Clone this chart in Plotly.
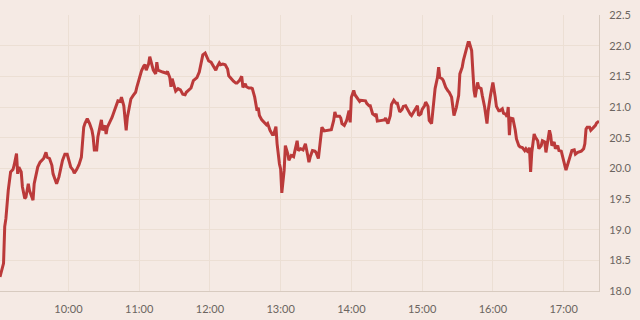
import pandas as pd
import plotly.graph_objects as go

# minutes after 09:00 and price
minutes = [2, 5, 6, 7, 9, 11, 13, 14, 16, 17, 18, 20, 21, 23, 24, 26, 27, 29, 30, 31,
           33, 34, 36, 38, 39, 41, 42, 44, 46, 47, 49, 50, 52, 53, 55, 57, 59, 60, 62, 64,
           65, 67, 68, 69, 71, 72, 73, 74, 76, 78, 80, 81, 82, 84, 85, 87, 88, 89, 91, 92,
           93, 95, 97, 99, 101, 102, 104, 105, 107, 109, 110, 112, 113, 115, 117, 118, 120, 122, 124, 125,
           126, 128, 129, 131, 132, 134, 135, 136, 138, 140, 143, 144, 146, 147, 148, 150, 151, 153, 155, 157,
           159, 160, 162, 164, 166, 168, 169, 171, 173, 174, 176, 178, 179, 181, 183, 185, 186, 188, 189, 191,
           193, 195, 196, 198, 200, 202, 203, 205, 207, 208, 210, 211, 213, 215, 216, 218, 220, 221, 222, 224,
           226, 228, 229, 231, 233, 234, 236, 237, 239, 240, 241, 243, 244, 246, 247, 249, 251, 252, 254, 255,
           257, 259, 261, 263, 264, 265, 267, 269, 270, 272, 273, 274, 275, 277, 279, 281, 283, 285, 286, 287,
           290, 291, 292, 294, 296, 298, 299, 300, 302, 303, 305, 307, 308, 310, 312, 313, 315, 316, 318, 320,
           321, 322, 324, 326, 328, 329, 330, 331, 333, 334, 336, 338, 339, 341, 343, 344, 346, 348, 350, 351,
           353, 355, 356, 357, 359, 360, 362, 363, 365, 366, 368, 369, 370, 371, 373, 374, 375, 377, 378, 380,
           382, 383, 385, 387, 389, 391, 392, 394, 395, 397, 399, 400, 402, 403, 404, 405, 407, 408, 410, 411,
           413, 415, 416, 418, 419, 420, 422, 423, 425, 426, 428, 429, 431, 432, 433, 434, 435, 437, 439, 440,
           442, 443, 445, 447, 448, 450, 451, 452, 453, 455, 456, 458, 459, 461, 462, 464, 465, 466, 468, 469,
           470, 472, 473, 475, 476, 478, 479, 481, 482, 484, 485, 487, 489, 490, 492, 494, 495, 497, 498, 499,
           500, 502, 503, 505, 507, 508, 510]

prices = [18.23, 18.45, 19.05, 19.18, 19.64, 19.94, 19.98, 20.05, 20.24, 19.91, 20.02, 19.94, 19.70, 19.51, 19.53, 19.75, 19.64, 19.51, 19.48, 19.75,
          19.97, 20.02, 20.10, 20.14, 20.16, 20.26, 20.18, 20.16, 20.05, 19.91, 19.78, 19.75, 19.86, 19.97, 20.13, 20.23, 20.23, 20.16, 20.02, 19.97,
          19.92, 19.98, 20.02, 20.06, 20.18, 20.51, 20.67, 20.73, 20.81, 20.73, 20.62, 20.51, 20.30, 20.30, 20.51, 20.70, 20.79, 20.62, 20.70, 20.56,
          20.67, 20.75, 20.83, 20.94, 21.05, 21.10, 21.09, 21.16, 21.02, 20.62, 20.83, 21.05, 21.13, 21.19, 21.24, 21.32, 21.46, 21.59, 21.67, 21.69,
          21.60, 21.70, 21.82, 21.65, 21.60, 21.54, 21.73, 21.60, 21.58, 21.57, 21.55, 21.58, 21.48, 21.33, 21.46, 21.35, 21.26, 21.30, 21.28, 21.21,
          21.20, 21.24, 21.28, 21.31, 21.43, 21.46, 21.48, 21.57, 21.75, 21.85, 21.88, 21.78, 21.75, 21.73, 21.67, 21.60, 21.65, 21.72, 21.69, 21.70,
          21.69, 21.62, 21.51, 21.46, 21.42, 21.39, 21.39, 21.43, 21.50, 21.32, 21.38, 21.33, 21.31, 21.31, 21.30, 21.16, 20.94, 20.99, 20.86, 20.79,
          20.74, 20.71, 20.73, 20.62, 20.55, 20.55, 20.68, 20.40, 20.07, 19.99, 19.60, 19.97, 20.37, 20.24, 20.13, 20.21, 20.19, 20.29, 20.45, 20.29,
          20.32, 20.30, 20.40, 20.21, 20.10, 20.18, 20.29, 20.28, 20.26, 20.16, 20.37, 20.56, 20.67, 20.61, 20.62, 20.62, 20.63, 20.78, 20.92, 20.85,
          20.85, 20.82, 20.73, 20.70, 20.78, 20.94, 20.75, 21.16, 21.27, 21.20, 21.15, 21.09, 21.11, 21.11, 21.10, 21.06, 21.02, 21.02, 20.89, 20.86,
          20.89, 20.77, 20.78, 20.79, 20.79, 20.82, 20.78, 20.73, 20.86, 21.04, 21.11, 21.06, 21.06, 20.92, 20.96, 21.01, 21.02, 20.94, 20.88, 20.86,
          20.92, 20.97, 21.02, 20.86, 20.89, 20.96, 21.02, 21.08, 21.01, 20.78, 20.73, 20.92, 21.19, 21.30, 21.48, 21.65, 21.48, 21.46, 21.43, 21.32,
          21.26, 21.24, 21.16, 20.86, 20.99, 21.19, 21.54, 21.65, 21.76, 21.92, 22.05, 22.05, 21.92, 21.59, 21.27, 21.16, 21.40, 21.32, 21.30, 21.19,
          21.00, 20.73, 20.94, 21.19, 21.27, 21.40, 21.16, 21.01, 20.94, 20.94, 20.97, 20.90, 20.88, 20.84, 21.00, 20.54, 20.82, 20.81, 20.62, 20.48,
          20.37, 20.35, 20.34, 20.29, 20.32, 20.26, 20.34, 19.94, 20.26, 20.56, 20.51, 20.45, 20.32, 20.37, 20.45, 20.43, 20.26, 20.40, 20.62, 20.54,
          20.37, 20.43, 20.32, 20.37, 20.29, 20.28, 20.21, 20.07, 19.97, 20.10, 20.18, 20.29, 20.30, 20.23, 20.26, 20.28, 20.28, 20.32, 20.40, 20.64,
          20.67, 20.67, 20.62, 20.66, 20.70, 20.74, 20.77]

hour_ticks = ["10:00", "11:00", "12:00", "13:00", "14:00", "15:00", "16:00", "17:00"]
price_ticks = [18.0, 18.5, 19.0, 19.5, 20.0, 20.5, 21.0, 21.5, 22.0, 22.5]

day = "2024-01-02 "
base = pd.Timestamp(day + "09:00")
times = [base + pd.Timedelta(minutes=m) for m in minutes]
tick_vals = [pd.Timestamp(day + h) for h in hour_ticks]

BG = "#f5eae4"
GRID = "#ecdfd4"
AXIS = "#d8cbc0"
TXT = "#6b6560"

fig = go.Figure(go.Scatter(
    x=times, y=prices, mode="lines",
    line=dict(color="#bb3a3a", width=3),
    hoverinfo="skip",
))

fig.update_layout(
    width=640, height=320,
    margin=dict(l=0, r=41, t=15, b=29),
    paper_bgcolor=BG, plot_bgcolor=BG,
    showlegend=False,
    font=dict(family="Lato, Open Sans, sans-serif", size=11, color=TXT),
)
fig.update_xaxes(
    range=[times[0], times[-1]],
    tickvals=tick_vals, ticktext=hour_ticks,
    showgrid=True, gridcolor=GRID, gridwidth=1,
    showline=True, linecolor=AXIS, linewidth=1,
    ticks="", ticklabelstandoff=8,
    zeroline=False,
)
fig.update_yaxes(
    side="right", range=[18.0, 22.5],
    tickvals=price_ticks, tickformat=".1f",
    showgrid=True, gridcolor=GRID, gridwidth=1,
    showline=True, linecolor=AXIS, linewidth=1,
    ticks="", ticklabelstandoff=7,
    zeroline=False,
)

fig.write_html("out.html")
